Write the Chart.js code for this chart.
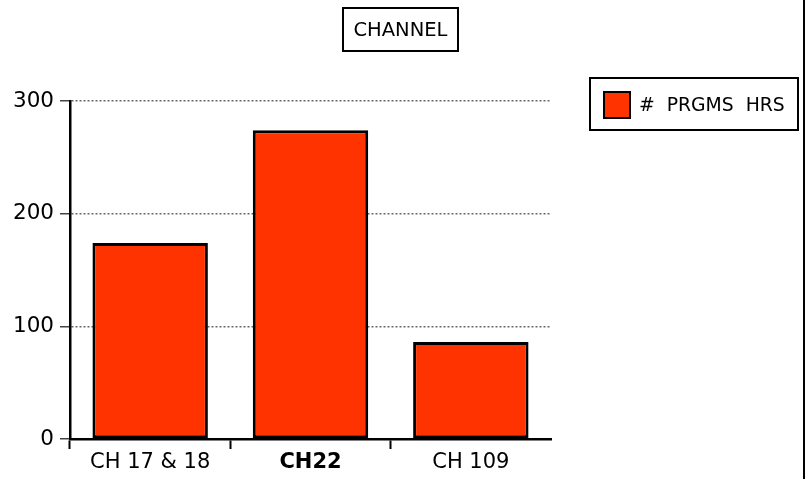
<!DOCTYPE html>
<html>
<head>
<meta charset="utf-8">
<script src="https://cdn.jsdelivr.net/npm/chart.js@4"></script>
<style>
  body { margin: 0; background: #fff; }
  #wrap { position: relative; width: 807px; height: 479px; overflow: hidden; font-family: "DejaVu Sans", sans-serif; }
  #title { position: absolute; left: 342px; top: 7px; width: 113px; height: 41px; border: 2px solid #000;
           font-size: 19.5px; line-height: 41px; text-align: center; }
  #legend { position: absolute; left: 589px; top: 77px; width: 206px; height: 50px; border: 2px solid #000;
            font-size: 18.8px; line-height: 50px; }
  #legend .sw { position: absolute; left: 12px; top: 12px; width: 24px; height: 24px; border: 2px solid #000; }
  #legend .lb { position: absolute; left: 48px; top: 1px; white-space: pre; }
  #edge { position: absolute; left: 803px; top: 0; width: 2px; height: 479px; background: #000; }
</style>
</head>
<body>
<div id="wrap">
  <canvas id="barChart" width="807" height="479"></canvas>
  <div id="title">CHANNEL</div>
  <div id="legend"><div class="sw"></div><div class="lb"></div></div>
  <div id="edge"></div>
</div>
<script>
document.addEventListener("DOMContentLoaded", function() {
    // Data
    var channels = ['CH 17 & 18', 'CH22', 'CH 109'];
    var seriesName = '#  PRGMS  HRS';
    var programHours = [174, 274, 86];
    var yTicks = [0, 100, 200, 300];

    var barColor = '#ff3300';

    // HTML legend built from the dataset
    document.querySelector('#legend .sw').style.background = barColor;
    document.querySelector('#legend .lb').textContent = seriesName;

    var ctx = document.getElementById('barChart').getContext('2d');

    var myChart = new Chart(ctx, {
        type: 'bar',
        data: {
            labels: channels,
            datasets: [{
                label: seriesName,
                data: programHours,
                backgroundColor: barColor,
                borderColor: '#000',
                borderWidth: 3,
                borderSkipped: false,
                barPercentage: 0.72,
                categoryPercentage: 1
            }]
        },
        options: {
            responsive: false,
            animation: false,
            layout: { padding: { left: 0, right: 256, top: 101, bottom: 0 } },
            plugins: {
                legend: { display: false },
                title: { display: false },
                tooltip: { enabled: false }
            },
            scales: {
                x: {
                    afterFit: function(s) { s.height = 40; },
                    grid: {
                        offset: true,
                        drawOnChartArea: false,
                        tickLength: 10,
                        tickWidth: 2,
                        tickColor: function(c) { return c.type === 'tick' ? '#000' : 'rgba(0,0,0,0)'; }
                    },
                    border: { color: '#000', width: 2.5, z: 1 },
                    ticks: {
                        color: '#000',
                        padding: 1,
                        font: function(c) {
                            return { family: 'DejaVu Sans', size: 21, weight: c.index === 1 ? 'bold' : 'normal' };
                        }
                    }
                },
                y: {
                    min: yTicks[0],
                    max: yTicks[yTicks.length - 1],
                    afterFit: function(s) { s.width = 70; },
                    afterBuildTicks: function(s) { s.ticks = yTicks.map(function(v) { return { value: v }; }); },
                    grid: {
                        color: '#666',
                        lineWidth: 1.5,
                        tickColor: '#444',
                        tickLength: 10,
                        tickWidth: 1.5
                    },
                    border: { color: '#000', width: 2.5, dash: [2, 2] },
                    ticks: {
                        color: '#000',
                        padding: 6,
                        font: { family: 'DejaVu Sans', size: 21.5 }
                    }
                }
            }
        }
    });
});
</script>
</body>
</html>
